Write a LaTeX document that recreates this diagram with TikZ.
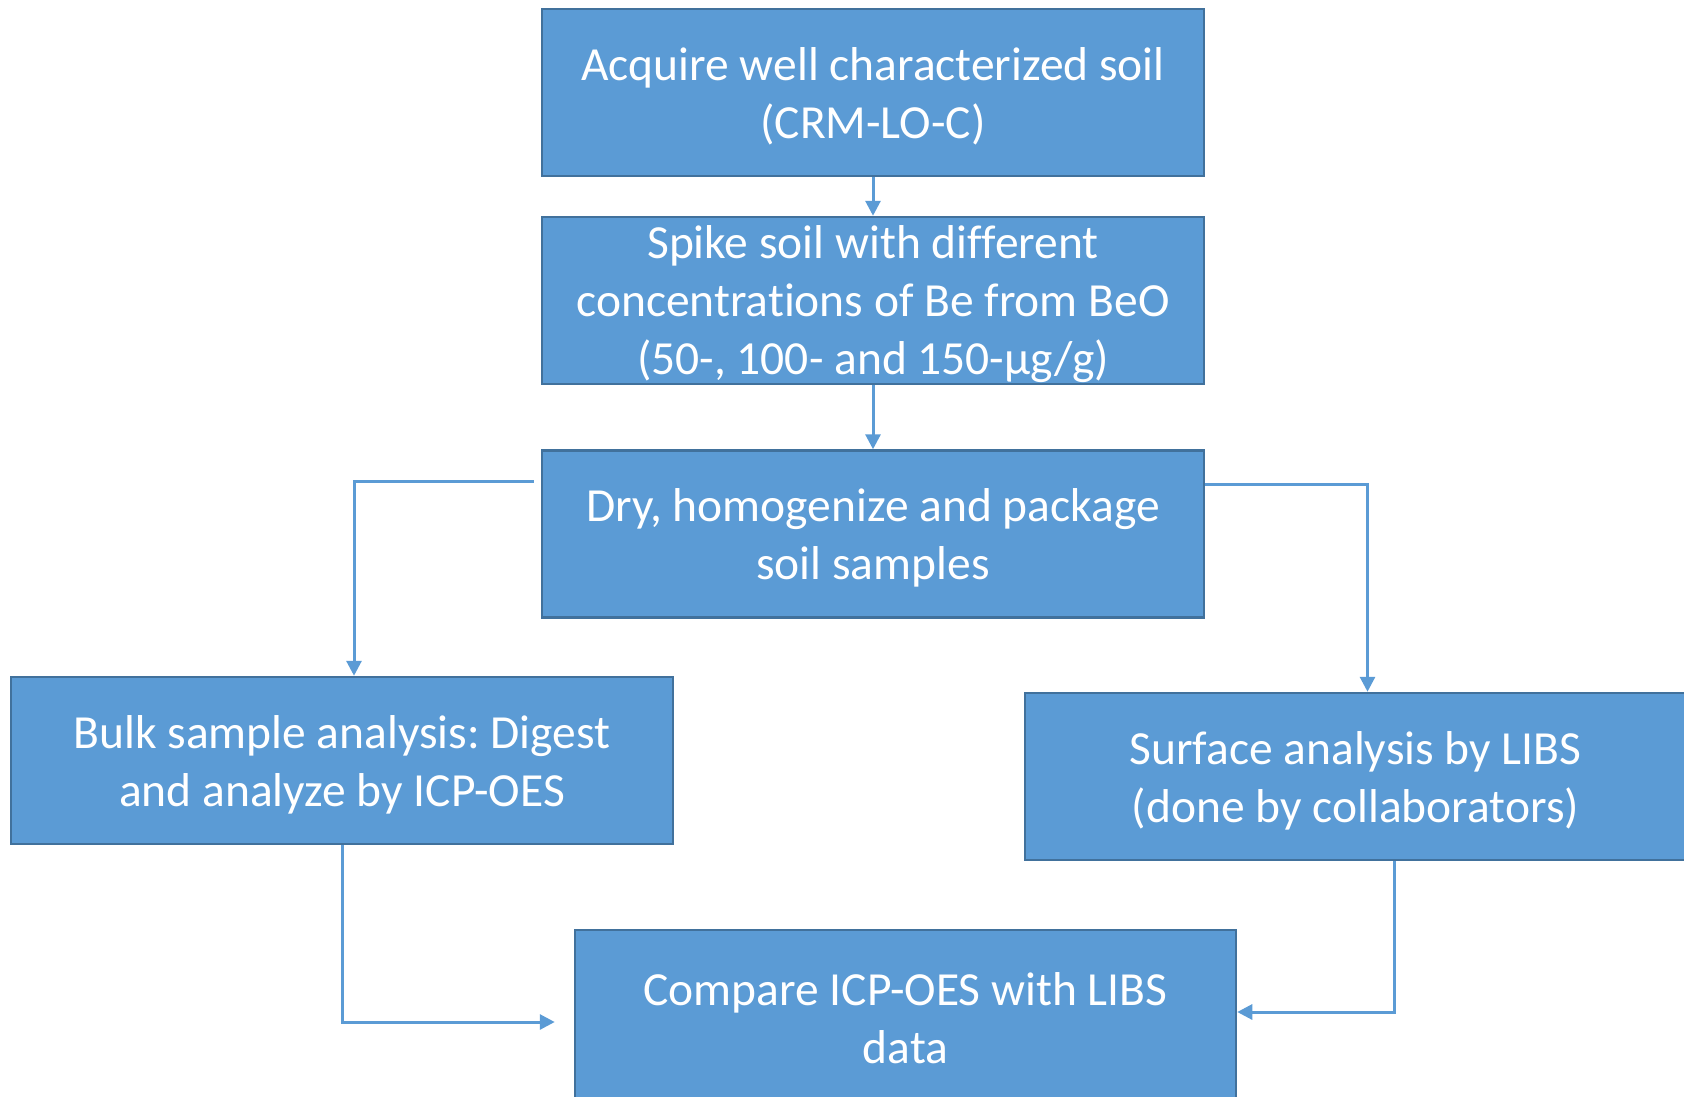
\documentclass[tikz,border=0pt]{standalone}
\usepackage{fontspec}
\setmainfont[Ligatures=NoCommon]{Carlito}
\usetikzlibrary{arrows.meta,calc}
\definecolor{boxfill}{RGB}{91,155,213}
\definecolor{boxline}{RGB}{65,113,156}
\definecolor{arrline}{RGB}{91,155,213}
\begin{document}
\frenchspacing
\begin{tikzpicture}[x=1pt,y=-1pt,
  stepbox/.style={rectangle,draw=boxline,fill=boxfill,line width=2.5pt,
    inner sep=0pt},
  boxtext/.style={text=white,align=center,inner sep=0pt,
    font=\fontsize{47.5}{58}\selectfont},
  arr/.style={draw=arrline,line width=3pt,
    -{Triangle[length=15pt,width=15pt]}}]
\useasboundingbox (0,0) rectangle (1684,1096);
\begin{scope}
\clip (0,0) rectangle (1684,1096);
\node[stepbox,minimum width=662pt,minimum height=167pt] (b1) at (873,92.5) {};
\node[boxtext] (t1) at ($(b1)+(0,4)$)
  {Acquire well characterized soil\\(CRM-LO-C)};
\node[stepbox,minimum width=662pt,minimum height=167pt] (b2) at (873,300.5) {};
\node[boxtext] (t2) at ($(b2)+(0,4)$)
  {Spike soil with different\\concentrations of Be from BeO\\(50-, 100- and 150-µg/g)};
\node[stepbox,minimum width=662pt,minimum height=167pt] (b3) at (873,534) {};
\node[boxtext] (t3) at ($(b3)+(0,4)$)
  {Dry, homogenize and package\\soil samples};
\node[stepbox,minimum width=662pt,minimum height=167pt] (b4) at (342,760.5) {};
\node[boxtext] (t4) at ($(b4)+(0,4)$)
  {Bulk sample analysis: Digest\\and analyze by ICP-OES};
\node[stepbox,minimum width=661pt,minimum height=167pt] (b5) at (1355.5,776.5) {};
\node[boxtext] (t5) at ($(b5)+(0,4)$)
  {Surface analysis by LIBS\\(done by collaborators)};
\node[stepbox,minimum width=661pt,minimum height=168pt] (b6) at (905.5,1014) {};
\node[boxtext] (t6) at ($(b6)+(0,4)$)
  {Compare ICP-OES with LIBS\\data};
\draw[arr] (b1.south) -- (b2.north);
\draw[arr] (b2.south) -- (b3.north);
\draw[arr] ($(b3.north west)+(-7,32)$) -| ([xshift=12pt]b4.north);
\draw[arr] ($(b3.north east)+(0,35)$) -| ([xshift=12pt]b5.north);
\draw[arr] (b4.south) |- ($(b6.west)+(-19,8)$);
\draw[arr] ([xshift=38.5pt]b5.south) |- ($(b6.east)+(0,-2)$);
\end{scope}
\end{tikzpicture}
\end{document}
